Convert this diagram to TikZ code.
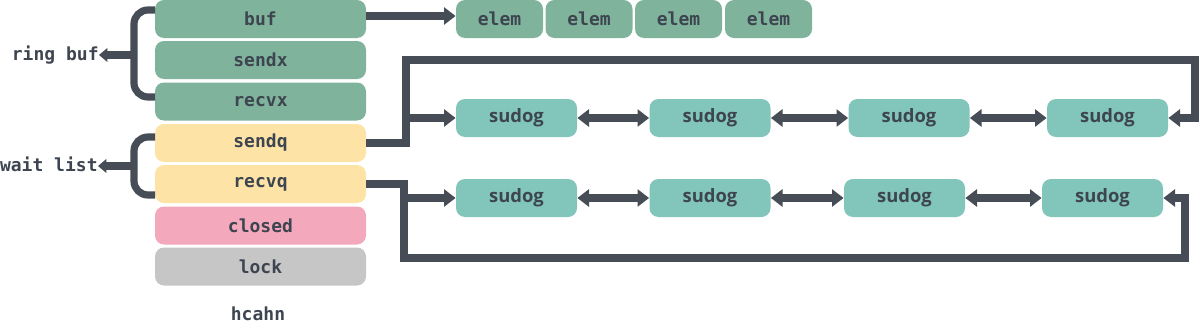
\documentclass[tikz,border=0pt]{standalone}
\usepackage{fontspec}
\setmonofont{DejaVu Sans Mono}
\newfontfamily\sudogfont{Open Sans}
\usetikzlibrary{arrows.meta}
\definecolor{ink}{HTML}{474D57}
\definecolor{txt}{HTML}{3D4550}
\definecolor{gbox}{HTML}{80B39B}
\definecolor{tbox}{HTML}{82C6BB}
\definecolor{ybox}{HTML}{FDE4A6}
\definecolor{pbox}{HTML}{F4A8BB}
\definecolor{kbox}{HTML}{C6C6C6}
\begin{document}
\begin{tikzpicture}[x=0.5pt,y=-0.5pt,
  monotext/.style={text=txt,font=\ttfamily\bfseries\fontsize{9}{10}\selectfont},
  field/.style={monotext,rounded corners=4.5pt,minimum width=105.5pt,minimum height=19pt,inner sep=0pt},
  elembox/.style={monotext,fill=gbox,rounded corners=4.5pt,minimum width=43.5pt,minimum height=19pt,inner sep=0pt},
  sudogbox/.style={text=txt,font=\sudogfont\bfseries\fontsize{9.2}{10}\selectfont,fill=tbox,rounded corners=4.5pt,minimum width=60.5pt,minimum height=19pt,inner sep=0pt},
  conn/.style={draw=ink,line width=3.6pt},
  arr/.style={conn,-{Triangle[width=8.5pt,length=5.8pt]}},
  dbl/.style={conn,{Triangle[width=8.5pt,length=5.8pt]}-{Triangle[width=8.5pt,length=5.8pt]}},
  brace/.style={conn,rounded corners=7pt},
  sarr/.style={conn,-{Triangle[width=6.8pt,length=4.2pt]}},
  lbl/.style={monotext,inner sep=0pt}
]
\useasboundingbox (0,0) rectangle (1200,332);

% channel fields
\node[field,fill=gbox] (buf)    at (260.5,19)    {buf};
\node[field,fill=gbox] (sendx)  at (260.5,60)    {sendx};
\node[field,fill=gbox] (recvx)  at (260.5,101.5) {recvx};
\node[field,fill=ybox] (sendq)  at (260.5,143)   {sendq};
\node[field,fill=ybox] (recvq)  at (260.5,184)   {recvq};
\node[field,fill=pbox] (closed) at (260.5,225.5) {closed};
\node[field,fill=kbox] (lock)   at (260.5,266.5) {lock};
\node[lbl] (title) at (258,314) {hcahn};

% elems
\node[elembox] (e1) at (499.5,19) {elem};
\node[elembox] (e2) at (589,19)   {elem};
\node[elembox] (e3) at (678.5,19) {elem};
\node[elembox] (e4) at (768.5,19) {elem};

% sudog rows
\node[sudogbox] (t1) at (516.5,118)  {sudog};
\node[sudogbox] (t2) at (710,118)    {sudog};
\node[sudogbox] (t3) at (909,118)    {sudog};
\node[sudogbox] (t4) at (1107.5,118) {sudog};
\node[sudogbox] (b1) at (516.5,198)  {sudog};
\node[sudogbox] (b2) at (710,198)    {sudog};
\node[sudogbox] (b3) at (904.5,198)  {sudog};
\node[sudogbox] (b4) at (1102.5,198) {sudog};

% labels on left
\node[lbl,anchor=east] (ring) at (99,55) {ring buf};
\node[lbl,anchor=east] (wait) at (98,164) {wait list};

% braces
\coordinate (rb1) at (155,10);
\coordinate (rb2) at (155,97);
\coordinate (rbm) at (134,55);
\draw[brace] (rb1) -- (134,10) -- (134,97) -- (rb2);
\draw[sarr] (rbm) -- (ring.east);
\coordinate (wl1) at (155,137);
\coordinate (wl2) at (155,195);
\coordinate (wlm) at (134,166);
\draw[brace] (wl1) -- (134,137) -- (134,195) -- (wl2);
\draw[sarr] (wlm) -- (wait.east |- wlm);

% buf -> elems
\draw[arr] (buf.east |- 0,16) -- (e1.west |- 0,16);

% sendq loop
\coordinate (sj) at (406,143);
\coordinate (sjt) at (406,60);
\coordinate (sjr) at (1195,60);
\coordinate (sjd) at (1195,118);
\coordinate (sbr) at (406,118);
\draw[arr] (sendq.east) -- (sj) -- (sjt) -- (sjr) -- (sjd) -- (t4.east);
\draw[arr] (sbr) -- (t1.west);
\draw[dbl] (t1.east) -- (t2.west);
\draw[dbl] (t2.east) -- (t3.west);
\draw[dbl] (t3.east) -- (t4.west);

% recvq loop
\coordinate (rj) at (404,184);
\coordinate (rjb) at (404,258);
\coordinate (rjr) at (1185,258);
\coordinate (rju) at (1185,198);
\coordinate (rbr) at (404,198);
\draw[arr] (recvq.east) -- (rj) -- (rjb) -- (rjr) -- (rju) -- (b4.east);
\draw[arr] (rbr) -- (b1.west);
\draw[dbl] (b1.east) -- (b2.west);
\draw[dbl] (b2.east) -- (b3.west);
\draw[dbl] (b3.east) -- (b4.west);
\end{tikzpicture}
\end{document}
